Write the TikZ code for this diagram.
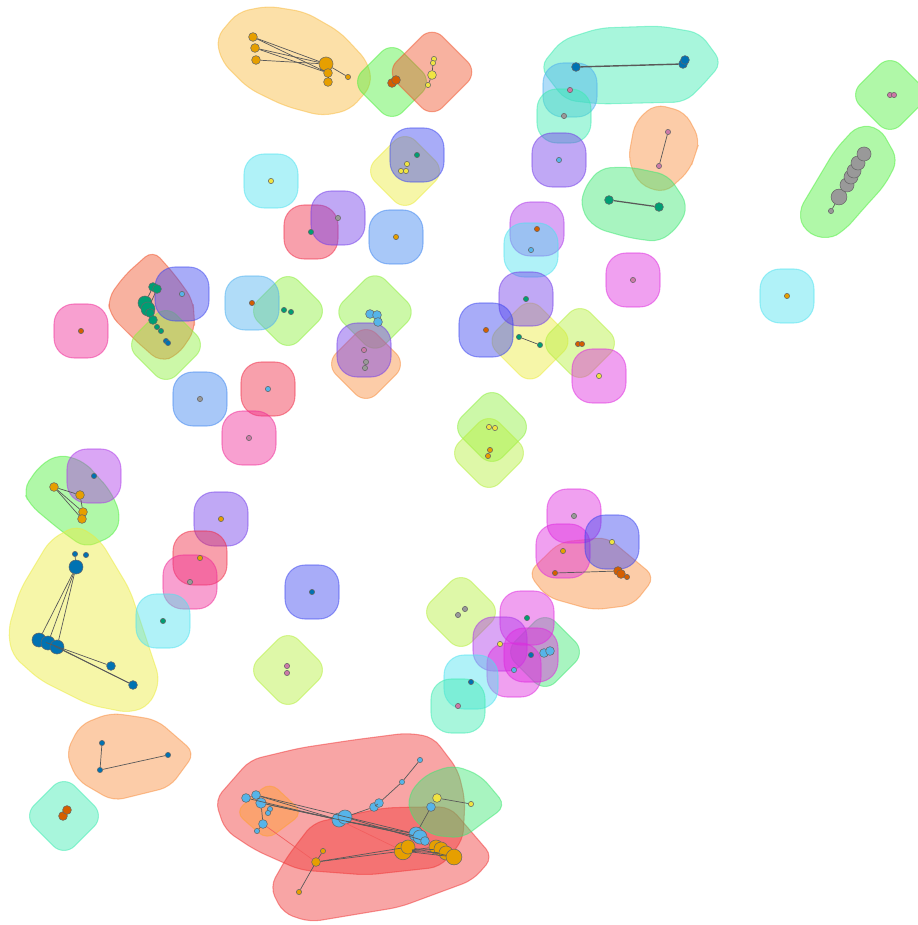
\documentclass[tikz,border=0pt]{standalone}
\usepackage{tikz}
\usetikzlibrary{positioning}

% hull colours
\definecolor{hcyan}{HTML}{4FE2EF}
\definecolor{hskyb}{HTML}{4FB1EF}
\definecolor{hblueb}{HTML}{3E85EF}
\definecolor{hperi}{HTML}{3E47EF}
\definecolor{hviolet}{HTML}{733EE9}
\definecolor{hlavm}{HTML}{AD39E9}
\definecolor{hmagenta}{HTML}{DE2CDE}
\definecolor{hpink}{HTML}{EF2C97}
\definecolor{hredp}{HTML}{EF2C47}
\definecolor{hsalmon}{HTML}{EF542C}
\definecolor{hlorange}{HTML}{F88E3E}
\definecolor{hgold}{HTML}{F8BA3E}
\definecolor{hyellow}{HTML}{EBEB3E}
\definecolor{hlime}{HTML}{B6EF3E}
\definecolor{hlgreen}{HTML}{8EEF3E}
\definecolor{hgreen}{HTML}{4FEF3E}
\definecolor{hmgreen}{HTML}{3EE773}
\definecolor{haqua}{HTML}{3EEBB1}
\definecolor{hred}{HTML}{EF3737}
\definecolor{horng}{HTML}{FFA030}
% vertex colours
\definecolor{dorange}{HTML}{E69F00}
\definecolor{dblue}{HTML}{0072B2}
\definecolor{dsky}{HTML}{56B4E9}
\definecolor{dgreen}{HTML}{009E73}
\definecolor{dyellow}{HTML}{F0E442}
\definecolor{dverm}{HTML}{D55E00}
\definecolor{dpink}{HTML}{CC79A7}
\definecolor{dgrey}{HTML}{999999}

\begin{document}
\begin{tikzpicture}[
    x=0.02cm, y=-0.02cm,
    blob/.style={draw=#1, fill=#1, fill opacity=0.45, draw opacity=0.5, line width=0.6pt, rectangle, minimum size=1.08cm, rounded corners=0.4cm, inner sep=0pt},
    dblob/.style={blob=#1, rotate=45, minimum size=1.15cm, rounded corners=0.3cm},
    hull/.style={draw=#1, fill=#1, fill opacity=0.45, draw opacity=0.5, line width=0.6pt, rounded corners=6pt},
    vtx/.style={circle, draw=black!60, fill=#1, inner sep=0pt, minimum size=3pt, line width=0.3pt},
    vtxm/.style={vtx=#1, minimum size=5pt},
    vtxb/.style={vtx=#1, minimum size=8pt},
    link/.style={draw=black!65, line width=0.4pt},
    rlink/.style={draw=hred!80, line width=0.4pt}
]
    \useasboundingbox (0,0) rectangle (917,925);

    % Big hulls
    \path[hull=hgold] (266,97) -- (248,88) -- (222,62) -- (216,38) -- (238,12) -- (268,6) -- (305,12) -- (340,32) -- (368,62) -- (372,85) -- (350,110) -- (322,116) -- (285,106) -- cycle;
    \path[hull=haqua] (642,103) -- (600,104) -- (565,100) -- (540,67) -- (562,40) -- (600,28) -- (660,26) -- (700,33) -- (722,63) -- (700,88) -- (685,102) -- cycle;
    \path[hull=hlorange] (695,155) -- (690,170) -- (665,193) -- (640,185) -- (628,160) -- (635,122) -- (655,104) -- (685,112) -- (700,140) -- cycle;
    \path[hull=hmgreen] (649,171) -- (668,175) -- (688,205) -- (680,225) -- (660,242) -- (630,238) -- (595,228) -- (581,210) -- (583,190) -- (600,168) -- (630,167) -- cycle;
    \path[hull=hgreen] (865,207) -- (845,230) -- (828,240) -- (805,232) -- (798,212) -- (835,150) -- (858,125) -- (880,128) -- (898,160) -- (885,185) -- cycle;
    \path[hull=hsalmon] (194,315) -- (195,330) -- (178,355) -- (160,362) -- (135,340) -- (110,315) -- (108,298) -- (125,275) -- (153,250) -- (175,275) -- (193,300) -- cycle;
    \path[hull=hgreen] (97,476) -- (110,490) -- (121,515) -- (115,535) -- (85,548) -- (60,530) -- (30,505) -- (23,490) -- (40,465) -- (60,454) -- (85,462) -- cycle;
    \path[hull=hyellow] (145,635) -- (160,680) -- (150,705) -- (130,713) -- (90,705) -- (40,680) -- (12,655) -- (8,630) -- (20,590) -- (50,540) -- (77,525) -- (100,540) -- (130,590) -- cycle;
    \path[hull=hlorange] (133,716) -- (157,720) -- (195,753) -- (170,787) -- (113,801) -- (77,780) -- (66,753) -- (80,725) -- (110,713) -- cycle;
    \path[hull=hlorange] (583,540) -- (607,537) -- (655,577) -- (633,605) -- (593,610) -- (547,597) -- (528,573) -- (560,542) -- cycle;
    \path[hull=hred] (353,740) -- (407,733) -- (433,737) -- (458,770) -- (465,800) -- (463,840) -- (440,867) -- (367,875) -- (300,870) -- (255,850) -- (225,830) -- (215,800) -- (250,760) -- (300,748) -- cycle;
    \path[hull=hred] (416,807) -- (450,807) -- (493,857) -- (473,880) -- (400,907) -- (310,922) -- (283,913) -- (270,887) -- (287,857) -- (313,823) -- (383,808) -- cycle;
    \path[hull=horng] (286,797) -- (303,813) -- (267,840) -- (235,812) -- (270,782) -- cycle;
    \path[hull=hmgreen] (493,790) -- (506,806) -- (480,825) -- (463,838) -- (430,835) -- (410,815) -- (408,795) -- (425,775) -- (453,765) -- (480,775) -- cycle;

    % Small hulls
    \node[dblob=hgreen] (h01) at (392,82) {};
    \node[dblob=hsalmon, minimum size=1.3cm] (h02) at (432,72) {};
    \node[dblob=hyellow] (h03) at (405,171) {};
    \node[dblob=hlgreen] (h04) at (288,311) {};
    \node[dblob=hlgreen, minimum size=1.2cm] (h05) at (375,312) {};
    \node[dblob=hlorange] (h06) at (366,364) {};
    \node[dblob=hyellow, minimum size=1.25cm] (h07) at (530,341) {};
    \node[dblob=hlime] (h08) at (580,343) {};
    \node[dblob=hlgreen] (h09) at (492,427) {};
    \node[dblob=hlime] (h10) at (489,453) {};
    \node[dblob=hlime] (h11) at (461,612) {};
    \node[dblob=hmgreen] (h12) at (545,652) {};
    \node[dblob=hlime] (h13) at (288,670) {};
    \node[dblob=haqua] (h14) at (64,816) {};
    \node[dblob=hgreen] (h15) at (890,95) {};
    \node[dblob=hlgreen] (h16) at (166,345) {};

    % Single vertices
    \def\singles{01/hcyan/271/181/dyellow, 02/hredp/311/232/dgreen, 03/hviolet/338/218/dgrey,
        04/hblueb/396/237/dorange, 05/hperi/417/155/dgreen, 06/hskyb/570/90/dpink,
        07/haqua/564/116/dgrey, 08/hviolet/559/160/dsky, 09/hlavm/537/229/dverm,
        10/hcyan/531/250/dsky, 11/hviolet/526/299/dgreen, 12/hmagenta/633/280/dpink,
        13/hcyan/787/296/dorange, 14/hperi/486/330/dverm, 15/hmagenta/599/376/dyellow,
        16/hpink/81/331/dverm, 17/hperi/182/294/dsky, 18/hskyb/252/303/dverm,
        19/hblueb/200/399/dgrey, 20/hredp/268/389/dsky, 21/hpink/249/438/dpink,
        22/hviolet/364/350/dpink, 23/hlavm/94/476/dblue, 24/hviolet/221/519/dorange,
        25/hredp/200/558/dorange, 26/hpink/190/582/dgrey, 27/hcyan/163/621/dgreen,
        28/hperi/312/592/dblue, 29/hmagenta/574/516/dgrey, 30/hmagenta/563/551/dorange,
        31/hperi/612/542/dyellow, 32/hmagenta/527/618/dgreen, 33/hlavm/500/644/dyellow,
        34/hmagenta/514/670/dsky, 35/hmagenta/531/655/dblue, 36/hcyan/471/682/dblue,
        37/haqua/458/706/dpink}
    \foreach \n/\c/\x/\y/\d in \singles {
        \node[blob=\c] (b\n) at (\x,\y) {};
    }
    \foreach \n/\c/\x/\y/\d in \singles {
        \node[vtx=\d] (s\n) at (\x,\y) {};
    }

    % Top cluster
    \node[vtxm=dorange] (o1) at (253,37) {};
    \node[vtxm=dorange] (o2) at (255,48) {};
    \node[vtxm=dorange] (o3) at (256,60) {};
    \node[vtxb=dorange] (o4) at (326,64) {};
    \node[vtxm=dorange] (o5) at (328,73) {};
    \node[vtxm=dorange] (o6) at (328,82) {};
    \node[vtx=dorange] (o7) at (348,77) {};
    \draw[link] (o1) -- (o4);
    \draw[link] (o2) -- (o4);
    \draw[link] (o3) -- (o4);
    \draw[link] (o1) -- (o5);
    \draw[link] (o2) -- (o5);
    \draw[link] (o4) -- (o7);
    \draw[link] (o5) -- (o6);

    \node[vtxm=dverm] (v1) at (392,83) {};
    \node[vtxm=dverm] (v2) at (396,80) {};
    \node[vtx=dyellow] (y1) at (434,59) {};
    \node[vtx=dyellow] (y2) at (433,63) {};
    \node[vtxm=dyellow] (y3) at (432,75) {};
    \node[vtx=dyellow] (y4) at (428,85) {};
    \draw[link] (y2) -- (y3);
    \draw[link] (y3) -- (y4);

    \node[vtxm=dblue] (bl1) at (576,67) {};
    \node[vtxm=dblue] (bl2) at (683,64) {};
    \node[vtxm=dblue] (bl3) at (685,60) {};
    \draw[link, line width=0.8pt] (bl1) -- (bl2);
    \node[vtx=dpink] (pk1) at (668,132) {};
    \node[vtx=dpink] (pk2) at (659,166) {};
    \draw[link] (pk1) -- (pk2);
    \node[vtxm=dgreen] (gr1) at (609,200) {};
    \node[vtxm=dgreen] (gr2) at (659,207) {};
    \draw[link, line width=0.7pt] (gr1) -- (gr2);
    \node[vtx=dpink] (pk3) at (890,95) {};
    \node[vtx=dpink] (pk4) at (894,95) {};

    % Grey chain
    \node[vtx=dgrey] (g7) at (831,211) {};
    \node[vtxb=dgrey, minimum size=9pt] (g6) at (839,197) {};
    \node[vtxb=dgrey] (g5) at (847,185) {};
    \node[vtxb=dgrey] (g4) at (851,177) {};
    \node[vtxb=dgrey] (g3) at (854,171) {};
    \node[vtxb=dgrey] (g2) at (858,163) {};
    \node[vtxb=dgrey] (g1) at (864,154) {};
    \draw[link] (g6) -- (g7);

    \node[vtx=dyellow] (yl1) at (407,164) {};
    \node[vtx=dyellow] (yl2) at (401,171) {};
    \node[vtx=dyellow] (yl3) at (406,171) {};

    % Middle hull vertices
    \node[vtx=dgreen] (gn1) at (284,310) {};
    \node[vtx=dgreen] (gn2) at (291,312) {};
    \node[vtxm=dsky] (sk1) at (370,314) {};
    \node[vtxm=dsky] (sk2) at (377,315) {};
    \node[vtxm=dsky] (sk3) at (378,322) {};
    \node[vtx=dgrey] (gy1) at (366,362) {};
    \node[vtx=dgrey] (gy2) at (365,368) {};
    \node[vtx=dgreen] (gn3) at (519,337) {};
    \node[vtx=dgreen] (gn4) at (540,345) {};
    \draw[link] (gn3) -- (gn4);
    \node[vtx=dverm] (vm1) at (578,344) {};
    \node[vtx=dverm] (vm2) at (582,344) {};
    \node[vtx=dyellow] (yl4) at (489,427) {};
    \node[vtx=dyellow] (yl5) at (495,428) {};
    \node[vtx=dorange] (or1) at (490,450) {};
    \node[vtx=dorange] (or2) at (488,456) {};
    \node[vtx=dgrey] (gy3) at (458,615) {};
    \node[vtx=dgrey] (gy4) at (465,609) {};
    \node[vtxm=dsky] (sk4) at (544,653) {};
    \node[vtxm=dsky] (sk5) at (550,651) {};
    \node[vtx=dpink] (pk5) at (287,666) {};
    \node[vtx=dpink] (pk6) at (287,673) {};

    \node[vtx=dverm] (vm5) at (555,573) {};
    \node[vtxm=dverm] (vm6) at (618,571) {};
    \node[vtxm=dverm] (vm7) at (621,574) {};
    \node[vtx=dverm] (vm8) at (627,577) {};
    \draw[link] (vm5) -- (vm6);

    % Left green chain
    \node[vtxm=dgreen] (gd1) at (153,287) {};
    \node[vtxm=dgreen] (gd2) at (157,289) {};
    \node[vtxb=dgreen] (gd3) at (145,303) {};
    \node[vtxb=dgreen] (gd4) at (148,309) {};
    \node[vtxm=dgreen] (gd5) at (150,313) {};
    \node[vtxm=dgreen] (gd6) at (153,320) {};
    \node[vtx=dgreen] (gd7) at (157,327) {};
    \node[vtx=dgreen] (gd8) at (161,331) {};
    \node[vtx=dblue] (bd1) at (166,341) {};
    \node[vtx=dblue] (bd2) at (168,343) {};
    \draw[link] (gd1) -- (gd3);
    \draw[link] (gd2) -- (gd4);

    % Orange square
    \node[vtxm=dorange] (od1) at (54,487) {};
    \node[vtxm=dorange] (od2) at (80,495) {};
    \node[vtxm=dorange] (od3) at (83,512) {};
    \node[vtxm=dorange] (od4) at (82,519) {};
    \draw[link] (od1) -- (od2);
    \draw[link] (od1) -- (od3);
    \draw[link] (od1) -- (od4);
    \draw[link] (od2) -- (od3);

    % Blue fan
    \node[vtx=dblue] (db1) at (75,554) {};
    \node[vtx=dblue] (db2) at (86,555) {};
    \node[vtxb=dblue] (db3) at (76,567) {};
    \node[vtxb=dblue] (db4) at (39,640) {};
    \node[vtxb=dblue] (db5) at (48,643) {};
    \node[vtxb=dblue] (db6) at (57,647) {};
    \node[vtxm=dblue] (db7) at (111,666) {};
    \node[vtxm=dblue] (db8) at (133,685) {};
    \draw[link] (db3) -- (db4);
    \draw[link] (db3) -- (db5);
    \draw[link] (db3) -- (db6);
    \draw[link] (db4) -- (db7);
    \draw[link] (db5) -- (db8);
    \draw[link] (db6) -- (db8);
    \draw[link] (db1) -- (db3);

    \node[vtx=dblue] (db9) at (102,743) {};
    \node[vtx=dblue] (db10) at (100,770) {};
    \node[vtx=dblue] (db11) at (168,755) {};
    \draw[link] (db9) -- (db10);
    \draw[link] (db10) -- (db11);
    \node[vtxm=dverm] (vm3) at (63,816) {};
    \node[vtxm=dverm] (vm4) at (67,810) {};

    % Bottom cluster
    \node[vtxm=dsky] (c1) at (246,798) {};
    \node[vtxm=dsky] (c2) at (256,795) {};
    \node[vtxm=dsky, minimum size=6pt] (c3) at (261,803) {};
    \node[vtx=dsky] (c4) at (270,809) {};
    \node[vtx=dsky] (c5) at (268,813) {};
    \node[vtxm=dsky] (c6) at (263,824) {};
    \node[vtx=dsky] (c7) at (257,831) {};
    \node[vtxb=dsky] (c8) at (339,820) {};
    \node[vtxb=dsky] (c9) at (345,817) {};
    \node[vtxm=dsky] (c10) at (374,807) {};
    \node[vtxm=dsky] (c11) at (379,803) {};
    \node[vtx=dsky] (c12) at (402,782) {};
    \node[vtx=dsky] (c13) at (420,760) {};
    \node[vtxb=dsky] (c14) at (416,834) {};
    \node[vtxb=dsky] (c15) at (420,837) {};
    \node[vtxm=dsky] (c16) at (425,841) {};
    \node[vtxm=dsky] (c17) at (431,807) {};
    \node[vtxm=dyellow] (yb1) at (437,798) {};
    \node[vtx=dyellow] (yb2) at (471,804) {};
    \node[vtxm=dorange] (ob1) at (316,862) {};
    \node[vtx=dorange] (ob2) at (323,851) {};
    \node[vtx=dorange] (ob3) at (299,892) {};
    \node[vtxb=dorange, minimum size=10pt] (ob4) at (403,851) {};
    \node[vtxb=dorange] (ob5) at (408,847) {};
    \node[vtxb=dorange] (ob6) at (436,847) {};
    \node[vtxb=dorange] (ob7) at (441,849) {};
    \node[vtxb=dorange] (ob8) at (446,853) {};
    \node[vtxb=dorange, minimum size=9pt] (ob9) at (454,857) {};
    \draw[link] (c1) -- (c2);
    \draw[link] (c2) -- (c3);
    \draw[link] (c3) -- (c6);
    \draw[link] (c6) -- (c7);
    \draw[link] (c1) -- (c8);
    \draw[link] (c2) -- (c8);
    \draw[link] (c3) -- (c8);
    \draw[link] (c2) -- (c14);
    \draw[link] (c3) -- (c15);
    \draw[link] (c8) -- (c14);
    \draw[link] (c9) -- (c16);
    \draw[link] (c8) -- (c15);
    \draw[link] (c9) -- (c10);
    \draw[link] (c10) -- (c11);
    \draw[link] (c11) -- (c12);
    \draw[link] (c12) -- (c13);
    \draw[link] (c17) -- (c14);
    \draw[link] (yb1) -- (yb2);
    \draw[link] (ob1) -- (ob4);
    \draw[link] (ob1) -- (ob5);
    \draw[link] (ob1) -- (ob2);
    \draw[link] (ob1) -- (ob3);
    \draw[link] (ob4) -- (ob6);
    \draw[link] (ob4) -- (ob7);
    \draw[link] (ob4) -- (ob8);
    \draw[link] (ob4) -- (ob9);
    \draw[link] (ob5) -- (ob9);
    \draw[rlink] (c6) -- (ob1);
    \draw[rlink] (c8) -- (ob4);
\end{tikzpicture}
\end{document}
